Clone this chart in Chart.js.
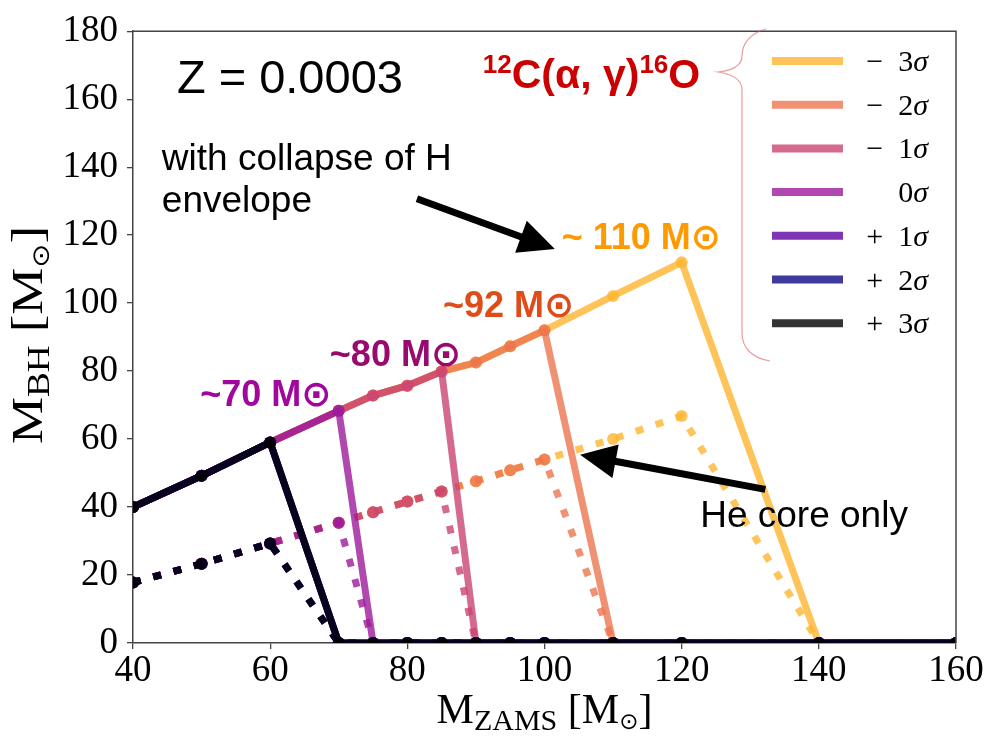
<!DOCTYPE html>
<html>
<head>
<meta charset="utf-8">
<script src="https://cdn.jsdelivr.net/npm/chart.js@4.4.0/dist/chart.umd.min.js"></script>
<style>
    html, body { margin: 0; padding: 0; background: #fff; }
</style>
</head>
<body>
<canvas id="bhChart" width="988" height="737"></canvas>
<script>
// ZAMS masses of the model grid
const masses = [40, 50, 60, 70, 75, 80, 85, 90, 95, 100, 110, 120, 140, 160];

const sigmaNames = ['−\u20023', '−\u20022', '−\u20021', '0', '+\u20021', '+\u20022', '+\u20023'];
const sigmaColors = [
    'rgba(254,181,49,0.8)',
    'rgba(236,117,80,0.8)',
    'rgba(203,69,115,0.8)',
    'rgba(156,26,156,0.8)',
    'rgba(92,2,162,0.8)',
    'rgba(14,9,134,0.8)',
    'rgba(0,0,0,0.8)'
];

// M_BH with collapse of the H envelope
const envM3 = [40, 49.2, 59, 68.3, 72.8, 75.7, 79.9, 82.5, 87.3, 92, 102.1, 112, 0, 0];
const envM2 = [40, 49.2, 59, 68.3, 72.8, 75.7, 79.9, 82.5, 87.3, 92, 0, 0, 0, 0];
const envM1 = [40, 49.2, 59, 68.3, 72.8, 75.7, 79.9, 0, 0, 0, 0, 0, 0, 0];
const env0  = [40, 49.2, 59, 68.3, 0, 0, 0, 0, 0, 0, 0, 0, 0, 0];
const envP1 = [40, 49.2, 59, 0, 0, 0, 0, 0, 0, 0, 0, 0, 0, 0];
const envP2 = [40, 49.2, 59, 0, 0, 0, 0, 0, 0, 0, 0, 0, 0, 0];
const envP3 = [40, 49.2, 59, 0, 0, 0, 0, 0, 0, 0, 0, 0, 0, 0];

// M_BH from the He core only
const coreM3 = [17.8, 23.3, 29.3, 35.4, 38.5, 41.6, 44.6, 47.6, 50.8, 54, 60, 66.8, 0, 0];
const coreM2 = [17.8, 23.3, 29.3, 35.4, 38.5, 41.6, 44.6, 47.6, 50.8, 54, 0, 0, 0, 0];
const coreM1 = [17.8, 23.3, 29.3, 35.4, 38.5, 41.6, 44.6, 0, 0, 0, 0, 0, 0, 0];
const core0  = [17.8, 23.3, 29.3, 35.4, 0, 0, 0, 0, 0, 0, 0, 0, 0, 0];
const coreP1 = [17.8, 23.3, 29.3, 0, 0, 0, 0, 0, 0, 0, 0, 0, 0, 0];
const coreP2 = [17.8, 23.3, 29.3, 0, 0, 0, 0, 0, 0, 0, 0, 0, 0, 0];
const coreP3 = [17.8, 23.3, 29.3, 0, 0, 0, 0, 0, 0, 0, 0, 0, 0, 0];

const envelope = [envM3, envM2, envM1, env0, envP1, envP2, envP3];
const heCore = [coreM3, coreM2, coreM1, core0, coreP1, coreP2, coreP3];

const serif = "'Liberation Serif', 'DejaVu Serif', serif";
const sans = "'Liberation Sans', 'DejaVu Sans', sans-serif";

function series(vals, i, dotted) {
    return {
        label: sigmaNames[i] + 'σ',
        data: masses.map((m, j) => ({ x: m, y: vals[j] })),
        borderColor: sigmaColors[i],
        backgroundColor: sigmaColors[i],
        pointBackgroundColor: sigmaColors[i],
        pointBorderWidth: 0,
        pointRadius: 6,
        pointHoverRadius: 6,
        borderWidth: 7,
        borderDash: dotted ? [8, 13] : [],
        borderCapStyle: 'butt',
        borderJoinStyle: dotted ? 'miter' : 'round',
        tension: 0,
        fill: false,
        clip: 0,
        // +3 sigma ends up on top, solid lines above dotted ones
        order: dotted ? 13 - i : 6 - i,
        dotted: dotted
    };
}

let datasets = [];
envelope.forEach((vals, i) => datasets.push(series(vals, i, false)));
heCore.forEach((vals, i) => datasets.push(series(vals, i, true)));

// text made of runs with their own font and baseline shift
function drawRuns(ctx, runs, x, y, align) {
    let total = 0;
    runs.forEach(r => { ctx.font = r[1]; total += ctx.measureText(r[0]).width; });
    let cx = align === 'center' ? x - total / 2 : (align === 'right' ? x - total : x);
    ctx.textAlign = 'left';
    ctx.textBaseline = 'alphabetic';
    runs.forEach(r => {
        ctx.font = r[1];
        ctx.fillText(r[0], cx, y + (r[2] || 0));
        cx += ctx.measureText(r[0]).width;
    });
}

function drawArrow(ctx, x0, y0, x1, y1) {
    let a = Math.atan2(y1 - y0, x1 - x0);
    let head = 36, half = 17;
    let bx = x1 - head * Math.cos(a), by = y1 - head * Math.sin(a);
    ctx.strokeStyle = '#000';
    ctx.fillStyle = '#000';
    ctx.lineWidth = 7;
    ctx.lineCap = 'butt';
    ctx.beginPath();
    ctx.moveTo(x0, y0);
    ctx.lineTo(bx + 2 * Math.cos(a), by + 2 * Math.sin(a));
    ctx.stroke();
    ctx.beginPath();
    ctx.moveTo(x1, y1);
    ctx.lineTo(bx + half * Math.sin(a), by - half * Math.cos(a));
    ctx.lineTo(bx - half * Math.sin(a), by + half * Math.cos(a));
    ctx.closePath();
    ctx.fill();
}

const annotations = {
    id: 'annotations',
    afterDraw(chart) {
        const ctx = chart.ctx;
        const xs = chart.scales.x, ys = chart.scales.y;
        const px = v => xs.getPixelForValue(v);
        const py = v => ys.getPixelForValue(v);
        const area = chart.chartArea;
        ctx.save();

        // top and right spines
        ctx.strokeStyle = '#444';
        ctx.lineWidth = 1.5;
        ctx.beginPath();
        ctx.moveTo(area.left, area.top);
        ctx.lineTo(area.right, area.top);
        ctx.lineTo(area.right, area.bottom);
        ctx.stroke();

        // axis titles
        ctx.fillStyle = '#000';
        drawRuns(ctx, [
            ['M', '42px ' + serif],
            ['ZAMS', '30px ' + serif, 7],
            [' [M', '42px ' + serif],
            ['⊙', "23px 'DejaVu Sans'", 6],
            [']', '42px ' + serif]
        ], (area.left + area.right) / 2, 723, 'center');

        ctx.save();
        ctx.translate(42, 335);
        ctx.rotate(-Math.PI / 2);
        ctx.scale(1.2, 1);
        drawRuns(ctx, [
            ['M', '44px ' + serif],
            ['BH', '31px ' + serif, 7],
            [' [M', '44px ' + serif],
            ['⊙', "24px 'DejaVu Sans'", 7],
            [']', '44px ' + serif]
        ], 0, 0, 'center');
        ctx.restore();

        // labels inside the plot
        ctx.fillStyle = '#000';
        drawRuns(ctx, [['Z = 0.0003', '47px ' + sans]], px(46.4), py(161.7), 'left');
        drawRuns(ctx, [['with collapse of H', '37px ' + sans]], px(44.2), py(139.1), 'left');
        drawRuns(ctx, [['envelope', '37px ' + sans]], px(44.2), py(126.7), 'left');
        drawRuns(ctx, [['He core only', '37px ' + sans]], px(122.7), py(34.2), 'left');

        ctx.fillStyle = '#cc0000';
        drawRuns(ctx, [
            ['12', 'bold 26px ' + sans, -15],
            ['C(α, γ)', 'bold 41px ' + sans],
            ['16', 'bold 26px ' + sans, -15],
            ['O', 'bold 41px ' + sans]
        ], px(91), py(163.2), 'left');

        ctx.fillStyle = '#ff9900';
        drawRuns(ctx, [['~ 110 M⊙', 'bold 36px ' + sans]], px(102.5), py(116), 'left');
        ctx.fillStyle = '#e04c18';
        drawRuns(ctx, [['~92 M⊙', 'bold 36px ' + sans]], px(85.2), py(96), 'left');
        ctx.fillStyle = '#990a6e';
        drawRuns(ctx, [['~80 M⊙', 'bold 36px ' + sans]], px(68.7), py(81.4), 'left');
        ctx.fillStyle = '#a1079c';
        drawRuns(ctx, [['~70 M⊙', 'bold 36px ' + sans]], px(49.8), py(69.6), 'left');

        // arrows
        drawArrow(ctx, px(81.4), py(130.7), px(101.5), py(115.9));
        drawArrow(ctx, px(132.2), py(45.2), px(105.2), py(55.4));

        // legend for the sigma variations
        const rowY = 61, rowGap = 43.7;
        chart.data.datasets.filter(d => !d.dotted).forEach((d, i) => {
            let y = rowY + i * rowGap;
            ctx.strokeStyle = d.borderColor;
            ctx.lineWidth = 8;
            ctx.lineCap = 'butt';
            ctx.beginPath();
            ctx.moveTo(772, y);
            ctx.lineTo(843, y);
            ctx.stroke();
            ctx.fillStyle = '#000';
            drawRuns(ctx, [
                [sigmaNames[i], '30px ' + serif],
                ['σ', 'italic 30px ' + serif]
            ], 928, y + 10, 'right');
        });

        // brace next to the legend
        ctx.strokeStyle = 'rgba(220,90,90,0.6)';
        ctx.lineWidth = 1.2;
        ctx.beginPath();
        ctx.moveTo(766, 29);
        ctx.bezierCurveTo(751, 33, 742, 43, 742, 56);
        ctx.bezierCurveTo(742, 66, 731, 71, 718, 72);
        ctx.bezierCurveTo(731, 74, 742, 79, 742, 90);
        ctx.lineTo(742, 333);
        ctx.bezierCurveTo(742, 348, 752, 358, 770, 361);
        ctx.stroke();

        ctx.restore();
    }
};

const tickFont = { family: serif, size: 37 };

new Chart(document.getElementById('bhChart').getContext('2d'), {
    type: 'line',
    data: { datasets: datasets },
    options: {
        responsive: false,
        devicePixelRatio: 1,
        animation: false,
        layout: { padding: { top: 22, right: 32, left: 0, bottom: 0 } },
        plugins: {
            legend: { display: false },
            tooltip: { enabled: false }
        },
        scales: {
            x: {
                type: 'linear',
                min: 40,
                max: 160,
                ticks: { stepSize: 20, color: '#000', font: tickFont, padding: 0, maxRotation: 0 },
                grid: { drawOnChartArea: false, drawTicks: true, tickLength: 6, color: '#444', lineWidth: 1.3 },
                border: { color: '#444', width: 1.5 },
                afterFit: s => { s.height = 94; }
            },
            y: {
                min: 0,
                max: 180,
                ticks: { stepSize: 20, color: '#000', font: tickFont, padding: 9 },
                grid: { drawOnChartArea: false, drawTicks: true, tickLength: 6, color: '#444', lineWidth: 1.3 },
                border: { color: '#444', width: 1.5 },
                afterFit: s => { s.width = 133; }
            }
        }
    },
    plugins: [annotations]
});
</script>
</body>
</html>
